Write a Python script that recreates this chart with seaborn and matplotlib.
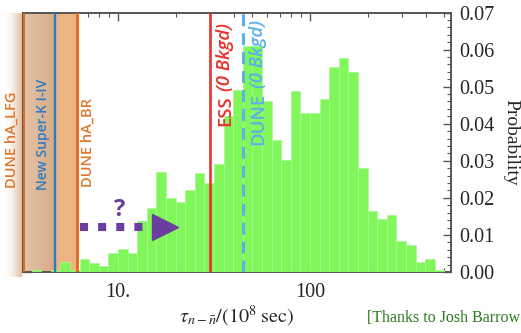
import numpy as np
import pandas as pd
import matplotlib
matplotlib.use("Agg")
import matplotlib.pyplot as plt
import matplotlib.ticker as mticker
from matplotlib.patches import Rectangle
import seaborn as sns

# ---------------- data ----------------
bin_start_log = 0.55          # log10 of first bin's left edge
bin_width_log = 0.05          # bins uniform in log10(tau)
probability = [
    0.0005, 0.0000, 0.0005, 0.0028, 0.0005, 0.0034, 0.0023, 0.0017, 0.0050, 0.0061,
    0.0050, 0.0138, 0.0172, 0.0270, 0.0199, 0.0188, 0.0221, 0.0266, 0.0241, 0.0291,
    0.0421, 0.0490, 0.0610, 0.0610, 0.0462, 0.0356, 0.0302, 0.0489, 0.0428, 0.0428,
    0.0467, 0.0554, 0.0577, 0.0539, 0.0280, 0.0165, 0.0143, 0.0155, 0.0084, 0.0072,
    0.0028, 0.0034, 0.0005,
]
x_tick_values = [10, 100]
x_tick_labels = ["10.", "100"]
y_tick_values = [0.00, 0.01, 0.02, 0.03, 0.04, 0.05, 0.06, 0.07]
y_tick_labels = ["0.00", "0.01", "0.02", "0.03", "0.04", "0.05", "0.06", "0.07"]
x_limits = [3.2, 542]
y_limits = [0.0, 0.07]

# limit lines (tau in 1e8 s)
lfg_tau = 3.2
superk_tau = 4.7
br_tau = 6.1
ess_tau = 30.0
dune_tau = 44.5

# purple "?" arrow (annotation)
arrow_x = [6.34, 16.6]
arrow_head_x = 17.6
arrow_y = 0.0121

W, H = 521, 333

def fx(x):
    return x / W

def fy(y):
    return 1 - y / H

sns.set_style("ticks")
plt.rcParams["font.family"] = ["Liberation Serif", "DejaVu Serif"]
plt.rcParams["mathtext.fontset"] = "stix"

fig = plt.figure(figsize=(W / 100, H / 100), dpi=100)
ax = fig.add_axes([fx(23), fy(272), fx(451) - fx(23), fy(12.5) - fy(272)])

n = len(probability)
edges_log = bin_start_log + bin_width_log * np.arange(n + 1)
centers = 10 ** ((edges_log[:-1] + edges_log[1:]) / 2)
df = pd.DataFrame({"tau": centers, "prob": probability})

sns.histplot(data=df, x="tau", weights="prob", bins=list(edges_log), log_scale=True,
             stat="count", color="#80f65a", edgecolor="#a8fa90", linewidth=0.5,
             alpha=1.0, ax=ax, zorder=3)

ax.set_xlim(*x_limits)
ax.set_ylim(*y_limits)

# ---- shaded excluded region ----
def mix(c0, c1, t):
    c0 = np.array(matplotlib.colors.to_rgb(c0))
    c1 = np.array(matplotlib.colors.to_rgb(c1))
    return tuple(c0 + (c1 - c0) * t)

nseg = 24
l0, l1 = np.log10(x_limits[0]), np.log10(superk_tau)
for i in range(nseg):
    a = 10 ** (l0 + (l1 - l0) * i / nseg)
    b = 10 ** (l0 + (l1 - l0) * (i + 1) / nseg)
    ax.axvspan(a, b, color=mix("#e2c3a8", "#d9ab86", i / (nseg - 1)), lw=0, zorder=1)
ax.axvspan(superk_tau, br_tau, color="#ebb482", lw=0, zorder=1)

# glow outside left edge
for i in range(18):
    t = i / 17
    fig.add_artist(Rectangle((fx(4 + i), fy(277)), fx(1.05), fy(12.5) - fy(277),
                             transform=fig.transFigure, color=mix("#ffffff", "#e2c0a4", t ** 1.6),
                             lw=0, zorder=0))

# ---- vertical lines ----
ax.axvline(lfg_tau, color="#e0701e", lw=2.2, zorder=5)
ax.axvline(superk_tau, color="#2a7bc4", lw=1.7, zorder=5)
ax.axvline(br_tau, color="#e0701e", lw=2.2, zorder=5)
ax.axvline(ess_tau, color="#e8322b", lw=1.9, zorder=5)
ax.axvline(dune_tau, color="#5cb0e8", lw=2.2, dashes=(3.9, 2.3), zorder=5)

# ---- purple arrow ----
ax.plot(arrow_x, [arrow_y, arrow_y], color="#6a3d9e", lw=5.8, ls=(0, (1.0, 1.25)),
        dash_capstyle="butt", zorder=6)
ax.plot([arrow_head_x], [arrow_y], marker=">", ms=19, color="#6a3d9e", mec="#6a3d9e", zorder=6)
fig.text(fx(120), fy(210), "?", color="#6a3d9e", fontsize=17, fontweight="bold",
         family=["Open Sans", "DejaVu Sans"], ha="center", va="center")

# ---- labels for lines ----
sans = ["Open Sans", "DejaVu Sans"]
def vlabel(x, ybottom, s, color, size, style="normal"):
    return fig.text(fx(x), fy(ybottom), s, rotation=90, rotation_mode="anchor",
                    ha="left", va="center", color=color, fontsize=size,
                    family=sans, fontweight="semibold", style=style)

vlabel(12, 188, "DUNE hA_LFG", "#e0752a", 10.5)
vlabel(43, 190, "New Super-K I-IV", "#2a7bc4", 10.0)
vlabel(88, 187, "DUNE hA_BR", "#e0752a", 10.5)

def two_part(xbase, ybottom, first, color):
    t1 = fig.text(fx(xbase), fy(ybottom), first, rotation=90, rotation_mode="anchor",
                  ha="left", va="baseline", color=color, fontsize=13.3,
                  family=sans, fontweight="semibold")
    fig.canvas.draw()
    bb = t1.get_window_extent()
    fig.text(fx(xbase), (bb.y1 + 4.5) / H, "(0 Bkgd)", rotation=90, rotation_mode="anchor",
             ha="left", va="baseline", color=color, fontsize=13.3,
             family=sans, fontweight="semibold", style="italic")

two_part(230, 126, "ESS", "#e8322b")
two_part(263, 145, "DUNE", "#5cb0e8")

# ---- axes styling ----
for s in ax.spines.values():
    s.set_color("#555555")
    s.set_linewidth(1.4)
ax.xaxis.set_major_locator(mticker.FixedLocator(x_tick_values))
ax.xaxis.set_major_formatter(mticker.FixedFormatter(x_tick_labels))
ax.xaxis.set_minor_locator(mticker.LogLocator(base=10, subs=np.arange(2, 10)))
ax.xaxis.set_minor_formatter(mticker.NullFormatter())
ax.yaxis.set_major_locator(mticker.FixedLocator(y_tick_values))
ax.yaxis.set_major_formatter(mticker.FixedFormatter(y_tick_labels))
ax.yaxis.set_minor_locator(mticker.MultipleLocator(0.002))
ax.tick_params(axis="both", which="both", direction="in", top=True, bottom=True,
               left=True, right=True, labelleft=False, labelright=True,
               color="#555555", labelsize=14.5, pad=6)
ax.tick_params(axis="x", which="both", pad=8)
ax.tick_params(which="major", length=6, width=1.0)
ax.tick_params(which="minor", length=3, width=0.8)
ax.yaxis.set_label_position("right")
ax.set_ylabel("Probability", rotation=270, fontsize=14, labelpad=18)
ax.set_xlabel(r"$\tau_{n-\bar{n}}/(10^8\;\mathrm{sec})$", fontsize=14.5, labelpad=1)

fig.text(fx(367), fy(318), "[Thanks to Josh Barrow", color="#2d7a1e", fontsize=11.5,
         ha="left", va="center")

fig.savefig("out.png", dpi=100)
